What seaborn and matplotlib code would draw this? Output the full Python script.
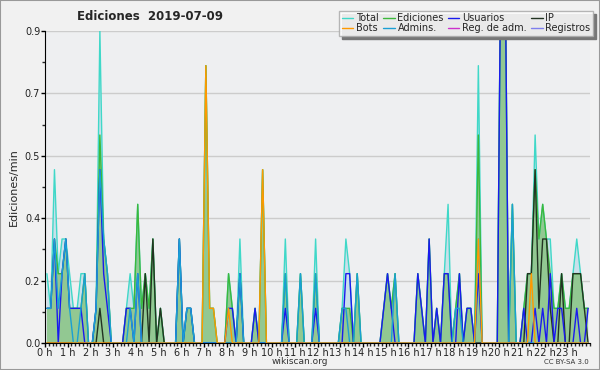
import numpy as np
import matplotlib
matplotlib.use("Agg")
import matplotlib.pyplot as plt
from matplotlib.ticker import FixedLocator, MultipleLocator
import seaborn as sns

# valores por tramo de 10 minutos (ediciones/min), 144 tramos
total = [
    .2, .1, .5, .2, .3, .3, .2, .1, .1, .2, .2, 0, 0, .1, .9, .3, .2, 0, 0, 0, 0, .1, .2, .1,
    .4, .1, .2, .1, .3, 0, .1, 0, 0, 0, 0, .3, 0, .1, .1, 0, 0, 0, .8, .1, .1, 0, 0, 0,
    .2, .1, 0, .3, 0, 0, 0, .1, 0, .5, 0, 0, 0, 0, 0, .3, 0, 0, 0, .2, 0, 0, 0, .3,
    0, 0, 0, 0, 0, 0, .1, .3, .2, 0, .2, 0, 0, 0, 0, 0, 0, .1, .2, .1, .2, 0, 0, 0,
    0, 0, .2, .1, 0, .3, 0, .1, 0, .2, .4, 0, .1, .2, 0, .1, .1, 0, .8, 0, 0, 0, 0, 0,
    1.2, 1.2, 0, .4, 0, 0, .1, .2, .2, .6, .3, .4, .3, .3, .1, .1, .2, .1, .1, .2, .3, .2, .1, .1,
]
ediciones = [
    .1, .1, .3, .2, .2, .3, .1, .1, .1, .1, .2, 0, 0, .1, .6, .3, .2, 0, 0, 0, 0, .1, .1, .1,
    .4, .1, .2, .1, .3, 0, .1, 0, 0, 0, 0, .3, 0, .1, .1, 0, 0, 0, .8, .1, .1, 0, 0, 0,
    .2, .1, 0, .2, 0, 0, 0, .1, 0, .5, 0, 0, 0, 0, 0, .2, 0, 0, 0, .2, 0, 0, 0, .2,
    0, 0, 0, 0, 0, 0, .1, .1, .1, 0, .2, 0, 0, 0, 0, 0, 0, .1, .2, .1, .2, 0, 0, 0,
    0, 0, .2, .1, 0, .3, 0, .1, 0, .2, .2, 0, .1, .2, 0, .1, .1, 0, .6, 0, 0, 0, 0, 0,
    1.2, 1.2, 0, .4, 0, 0, .1, .2, .2, .5, .3, .4, .3, .2, .1, .1, .2, .1, .1, .2, .2, .2, .1, .1,
]
usuarios = [
    .1, .1, .3, 0, .2, .3, .1, .1, .1, .1, 0, 0, 0, .1, .5, .2, .1, 0, 0, 0, 0, .1, .1, 0,
    .2, 0, 0, 0, 0, 0, 0, 0, 0, 0, 0, .3, 0, .1, .1, 0, 0, 0, 0, 0, 0, 0, 0, 0,
    .1, .1, 0, .2, 0, 0, 0, .1, 0, 0, 0, 0, 0, 0, 0, .1, 0, 0, 0, 0, 0, 0, 0, .1,
    0, 0, 0, 0, 0, 0, 0, .2, .2, 0, 0, 0, 0, 0, 0, 0, 0, .1, .2, .1, 0, 0, 0, 0,
    0, 0, .2, .1, 0, .3, 0, .1, 0, .2, .2, 0, 0, .2, 0, .1, .1, 0, .2, 0, 0, 0, 0, 0,
    1.2, 1.2, 0, 0, 0, 0, .1, 0, 0, .1, 0, .1, 0, .2, 0, .1, .1, 0, 0, 0, .1, 0, 0, .1,
]
ip = [
    0, 0, 0, 0, 0, 0, 0, 0, 0, 0, 0, 0, 0, 0, .1, 0, 0, 0, 0, 0, 0, 0, 0, 0,
    0, 0, .2, 0, .3, 0, .1, 0, 0, 0, 0, 0, 0, 0, 0, 0, 0, 0, 0, 0, 0, 0, 0, 0,
    0, 0, 0, 0, 0, 0, 0, 0, 0, 0, 0, 0, 0, 0, 0, 0, 0, 0, 0, 0, 0, 0, 0, 0,
    0, 0, 0, 0, 0, 0, 0, 0, 0, 0, 0, 0, 0, 0, 0, 0, 0, 0, 0, 0, 0, 0, 0, 0,
    0, 0, 0, 0, 0, 0, 0, 0, 0, 0, 0, 0, 0, 0, 0, 0, 0, 0, 0, 0, 0, 0, 0, 0,
    0, 0, 0, 0, 0, 0, 0, .2, .2, .5, .1, .3, .3, .1, 0, 0, .2, 0, 0, .2, .2, .2, .1, 0,
]
bots = [
    0, 0, 0, 0, 0, 0, 0, 0, 0, 0, 0, 0, 0, 0, 0, 0, 0, 0, 0, 0, 0, 0, 0, 0,
    0, 0, 0, 0, 0, 0, 0, 0, 0, 0, 0, 0, 0, 0, 0, 0, 0, 0, .8, .1, .1, 0, 0, 0,
    .1, 0, 0, 0, 0, 0, 0, 0, 0, .5, 0, 0, 0, 0, 0, 0, 0, 0, 0, 0, 0, 0, 0, 0,
    0, 0, 0, 0, 0, 0, 0, 0, 0, 0, 0, 0, 0, 0, 0, 0, 0, 0, 0, 0, 0, 0, 0, 0,
    0, 0, 0, 0, 0, 0, 0, 0, 0, 0, 0, 0, 0, 0, 0, 0, 0, 0, .3, 0, 0, 0, 0, 0,
    0, 0, 0, 0, 0, 0, 0, 0, .2, 0, 0, 0, 0, 0, 0, 0, 0, 0, 0, 0, 0, 0, 0, 0,
]
admins = [
    .1, .1, .3, .1, .2, .3, .1, 0, 0, .1, .2, 0, 0, .1, .5, .3, .2, 0, 0, 0, 0, 0, .1, 0,
    .2, 0, 0, 0, 0, 0, 0, 0, 0, 0, 0, .3, 0, .1, .1, 0, 0, 0, 0, 0, 0, 0, 0, 0,
    0, 0, 0, .2, 0, 0, 0, 0, 0, 0, 0, 0, 0, 0, 0, .2, 0, 0, 0, .2, 0, 0, 0, .2,
    0, 0, 0, 0, 0, 0, .1, .1, 0, 0, .2, 0, 0, 0, 0, 0, 0, 0, 0, 0, .2, 0, 0, 0,
    0, 0, 0, 0, 0, 0, 0, 0, 0, 0, 0, 0, .1, .1, 0, 0, 0, 0, .3, 0, 0, 0, 0, 0,
    0, 0, 0, .4, 0, 0, 0, 0, 0, 0, 0, 0, 0, 0, 0, 0, 0, 0, 0, 0, 0, 0, 0, 0,
]
reg_adm = [0] * 144
registros = [0] * 144

etiquetas_horas = [f"{h} h" for h in range(24)]
titulo = "Ediciones  2019-07-09"

# centro de cada tramo de 10 min, en horas
horas = (np.arange(len(total)) * 10 + 5) / 60

sns.set_style("ticks")
plt.rcParams['font.family'] = ['DejaVu Sans']

fig = plt.figure(figsize=(6, 3.7), dpi=100, facecolor='#f1f1f1')
ax = fig.add_axes([45 / 600, 27 / 370, 545 / 600, 312 / 370])
ax.set_facecolor('#eeeff1')

ax.fill_between(horas, total, color='#c9e0ea', lw=0, zorder=1)
ax.fill_between(horas, ediciones, color='#92c892', lw=0, zorder=2)

series = [
    ("Total", total, '#3fd8c8'),
    ("Bots", bots, '#ff9900'),
    ("Ediciones", ediciones, '#3cb83c'),
    ("Admins.", admins, '#1a9fd4'),
    ("Usuarios", usuarios, '#1a1aee'),
    ("Reg. de adm.", reg_adm, '#cc33cc'),
    ("IP", ip, '#223322'),
    ("Registros", registros, '#7f7fee'),
]
orden = {"Total": 3, "Ediciones": 4, "Reg. de adm.": 3, "Registros": 3,
         "IP": 5, "Usuarios": 6, "Admins.": 7, "Bots": 8}
for nombre, vals, color in series:
    sns.lineplot(x=horas, y=vals, color=color, lw=1, ax=ax, label=nombre,
                 zorder=orden[nombre], legend=False)

ax.set_xlim(0, 24)
ax.set_ylim(0, 0.9)
ax.xaxis.set_major_locator(FixedLocator(range(24)))
ax.set_xticklabels(etiquetas_horas)
ax.xaxis.set_minor_locator(MultipleLocator(1 / 6))
yt = [0, 0.18, 0.36, 0.54, 0.72, 0.9]
ax.yaxis.set_major_locator(FixedLocator(yt))
ax.set_yticklabels([f"{v:.1f}" for v in yt])
ax.yaxis.set_minor_locator(MultipleLocator(0.09))
ax.tick_params(axis='both', which='major', length=3, width=1, labelsize=7, pad=0.5,
               colors='black', labelcolor='#222222')
ax.tick_params(axis='both', which='minor', length=2, width=1)
ax.grid(axis='y', color='#cccccc', lw=1, zorder=0)
ax.set_axisbelow(True)
sns.despine(ax=ax, top=True, right=True)
ax.spines['left'].set_color('black')
ax.spines['bottom'].set_color('black')
ax.set_ylabel("Ediciones/min", fontsize=8, labelpad=4)
ax.set_xlabel("")

fig.text(150 / 600, 1 - 16 / 370, titulo, fontsize=8.5, fontweight='bold',
         ha='center', va='center')
fig.text(300 / 600, 1 - 362 / 370, "wikiscan.org", fontsize=6.5, ha='center', va='center',
         color='#333333')
fig.text(589 / 600, 1 - 362 / 370, "CC BY-SA 3.0", fontsize=5, ha='right', va='center',
         color='#333333')

handles = [plt.Line2D([], [], color=c, lw=1) for _, _, c in series]
etiq = [n for n, _, _ in series]
leg = fig.legend(handles, etiq, ncol=4, loc='upper right',
                 bbox_to_anchor=(593 / 600, 1 - 11 / 370), fontsize=7,
                 handlelength=1.2, handletextpad=0.3, columnspacing=0.4,
                 labelspacing=0.0, borderpad=0.25, borderaxespad=0, frameon=True,
                 fancybox=False, shadow={'color': '#777777', 'alpha': 1.0})
leg.get_frame().set_edgecolor('#aaaaaa')
leg.get_frame().set_facecolor('white')
leg.get_frame().set_alpha(0.85)

fig.patches.append(plt.Rectangle((0, 0), 1, 1, transform=fig.transFigure, fill=False,
                                 edgecolor='#999999', lw=1.5))
fig.savefig("out.png", dpi=100, facecolor=fig.get_facecolor())
